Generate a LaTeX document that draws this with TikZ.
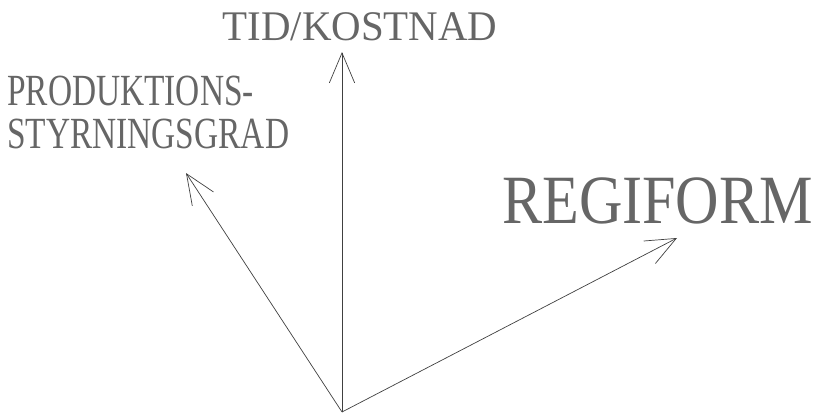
\documentclass[tikz,border=0pt]{standalone}
\usepackage{fontspec}
\setmainfont{Liberation Serif}
\usepackage{tikz}
\usetikzlibrary{arrows.meta,positioning}
\tikzset{
  axis/.style={-{Straight Barb[length=0.9cm, width=0.76cm, line width=0.6pt]}, line width=0.6pt, draw=black!75},
  axislabel/.style={text=black!60, inner sep=0pt, align=left},
}
\begin{document}
\begin{tikzpicture}[x=0.03cm,y=-0.03cm]
  \useasboundingbox (0,0) rectangle (817,415);
  \coordinate (origin) at (342,412);
  \coordinate (tidtip) at (342,52);
  \coordinate (styrtip) at (186,173);
  \coordinate (regitip) at (677,238);
  \draw[axis] (origin) -- (tidtip);
  \draw[axis] (origin) -- (styrtip);
  \draw[axis] (origin) -- (regitip);
  \node[axislabel, anchor=base, xscale=0.97, font=\fontsize{36}{36}\selectfont] (tid) at (360,40) {TID/KOSTNAD};
  \node[axislabel, anchor=base west, xscale=0.75, font=\fontsize{38}{36.6}\selectfont] (styr) at (7,148) {PRODUKTIONS-\\STYRNINGSGRAD};
  \node[axislabel, anchor=base west, xscale=0.87, font=\fontsize{59}{59}\selectfont] (regi) at (502,223) {REGIFORM};
\end{tikzpicture}
\end{document}
